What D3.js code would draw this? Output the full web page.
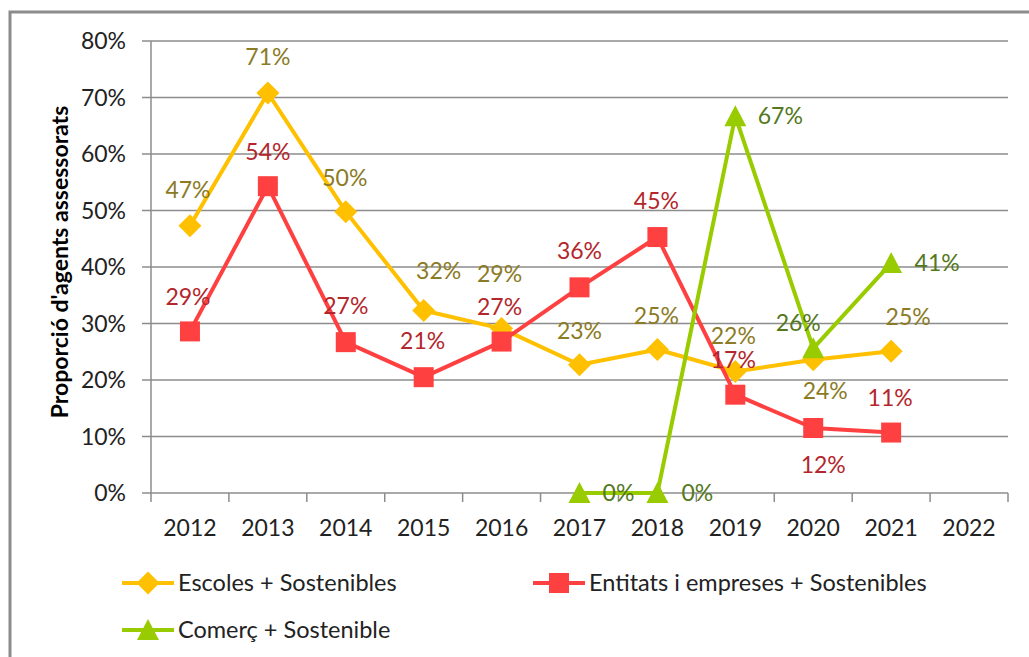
<html>
<head>
    <meta charset="utf-8">
    <title>Proporció d'agents assessorats</title>
    <style>
        body {
            margin: 0;
            background-color: #fff;
        }
        text {
            font-family: Lato, "Open Sans", sans-serif;
        }
        .grid line {
            stroke: #8c8c8c;
            stroke-width: 1.5px;
        }
        .line {
            fill: none;
            stroke-width: 4px;
            stroke-linejoin: round;
        }
    </style>
</head>
<body>
    <div id="container"></div>
    <script src="https://cdn.jsdelivr.net/npm/d3@7"></script>
    <script>
        let width = 1029,
            height = 657,
            margin = { left: 151, right: 21, top: 41, bottom: 164 };

        // data
        let years = ['2012', '2013', '2014', '2015', '2016', '2017', '2018', '2019', '2020', '2021', '2022'];
        let yTicks = [0, 0.1, 0.2, 0.3, 0.4, 0.5, 0.6, 0.7, 0.8];
        let escoles = [0.473, 0.708, 0.498, 0.323, 0.291, 0.227, 0.254, 0.215, 0.236, 0.251, null];
        let entitats = [0.286, 0.543, 0.267, 0.205, 0.268, 0.364, 0.453, 0.174, 0.115, 0.107, null];
        let comerc = [null, null, null, null, null, 0, 0, 0.667, 0.256, 0.407, null];

        // label offsets (dx, dy) per point, as placed in the original
        let escolesLbl = [[-2, -36], [0, -36], [-1, -34], [15, -40], [-2, -55], [0, -34], [-1, -34], [-2, -36], [12, 31], [17, -34]];
        let entitatsLbl = [[-2, -34], [0, -34], [0, -36], [-1, -36], [-2, -35], [0, -36], [-1, -36], [-2, -35], [10, 37], [-1, -35]];
        let comercLbl = [null, null, null, null, null, [39, 0], [40, 0], [45, 0], [-15, -25], [46, 0]];

        let series = [
            { name: 'Escoles + Sostenibles', values: escoles, lbl: escolesLbl, color: '#ffc000', text: '#8b7b25', shape: 'diamond' },
            { name: 'Entitats i empreses + Sostenibles', values: entitats, lbl: entitatsLbl, color: '#ff4040', text: '#b3262b', shape: 'square' },
            { name: 'Comerç + Sostenible', values: comerc, lbl: comercLbl, color: '#99cc00', text: '#54781c', shape: 'triangle' }
        ];

        let svg = d3.select('#container')
            .append('svg')
            .attr('width', width)
            .attr('height', height);

        // chart frame (cut off at right/bottom like the screenshot)
        svg.append('path')
            .attr('d', 'M10,' + height + 'V12H' + width)
            .attr('fill', 'none')
            .attr('stroke', '#8c8c8c')
            .attr('stroke-width', 3);

        let x = d3.scaleBand().domain(years).range([margin.left, width - margin.right]).paddingInner(0),
            y = d3.scaleLinear().domain([0, 0.8]).range([height - margin.bottom, margin.top]);
        let cx = function (d) { return x(d) + x.bandwidth() / 2; };
        let pct = d3.format('.0%');

        // horizontal gridlines
        let grid = svg.append('g').attr('class', 'grid');
        grid.selectAll('line')
            .data(yTicks)
            .enter().append('line')
            .attr('x1', margin.left - 9)
            .attr('x2', width - margin.right)
            .attr('y1', function (d) { return y(d); })
            .attr('y2', function (d) { return y(d); });

        // y axis line
        grid.append('line')
            .attr('x1', margin.left).attr('x2', margin.left)
            .attr('y1', y(0.8)).attr('y2', y(0) + 9);

        // x tick marks at band edges
        let edges = years.map(function (d) { return x(d); }).concat([width - margin.right]);
        grid.selectAll('.xtick')
            .data(edges.slice(1))
            .enter().append('line')
            .attr('class', 'xtick')
            .attr('x1', function (d) { return d; })
            .attr('x2', function (d) { return d; })
            .attr('y1', y(0))
            .attr('y2', y(0) + 9);

        // y tick labels
        svg.append('g').selectAll('text')
            .data(yTicks)
            .enter().append('text')
            .attr('x', 126)
            .attr('y', function (d) { return y(d); })
            .attr('dy', '0.35em')
            .attr('text-anchor', 'end')
            .attr('font-size', 23)
            .attr('fill', '#222')
            .text(function (d) { return pct(d); });

        // x tick labels
        svg.append('g').selectAll('text')
            .data(years)
            .enter().append('text')
            .attr('x', cx)
            .attr('y', 528)
            .attr('dy', '0.35em')
            .attr('text-anchor', 'middle')
            .attr('font-size', 23)
            .attr('fill', '#222')
            .text(function (d) { return d; });

        // y axis title
        svg.append('text')
            .attr('transform', 'translate(60,262) rotate(-90)')
            .attr('dy', '0.35em')
            .attr('text-anchor', 'middle')
            .attr('font-size', 23)
            .attr('font-weight', 'bold')
            .attr('fill', '#000')
            .text("Proporció d'agents assessorats");

        function marker(shape) {
            if (shape === 'diamond') return 'M0,-11.5L11.5,0L0,11.5L-11.5,0Z';
            if (shape === 'square') return 'M-10,-10H10V10H-10Z';
            return 'M0,-11L11,10H-11Z';
        }

        let line = d3.line()
            .defined(function (d) { return d.v != null; })
            .x(function (d) { return cx(d.year); })
            .y(function (d) { return y(d.v); });

        series.forEach(function (s) {
            let pts = years.map(function (yr, i) { return { year: yr, v: s.values[i], lbl: s.lbl[i] }; });
            let g = svg.append('g');
            g.append('path')
                .datum(pts)
                .attr('class', 'line')
                .attr('stroke', s.color)
                .attr('d', line);
            let ok = pts.filter(function (d) { return d.v != null; });
            g.selectAll('.mark')
                .data(ok)
                .enter().append('path')
                .attr('class', 'mark')
                .attr('transform', function (d) { return 'translate(' + cx(d.year) + ',' + y(d.v) + ')'; })
                .attr('d', marker(s.shape))
                .attr('fill', s.color);
        });

        // data labels drawn on top
        series.forEach(function (s) {
            let pts = years.map(function (yr, i) { return { year: yr, v: s.values[i], lbl: s.lbl[i] }; })
                .filter(function (d) { return d.v != null; });
            svg.append('g').selectAll('text')
                .data(pts)
                .enter().append('text')
                .attr('x', function (d) { return cx(d.year) + d.lbl[0]; })
                .attr('y', function (d) { return y(d.v) + d.lbl[1]; })
                .attr('dy', '0.35em')
                .attr('text-anchor', 'middle')
                .attr('font-size', 23)
                .attr('fill', s.text)
                .text(function (d) { return pct(d.v); });
        });

        // legend
        let legendPos = [[122, 583], [533, 583], [122, 630]];
        let legend = svg.append('g').selectAll('g')
            .data(series)
            .enter().append('g')
            .attr('transform', function (d, i) { return 'translate(' + legendPos[i][0] + ',' + legendPos[i][1] + ')'; });
        legend.append('line')
            .attr('x1', 0).attr('x2', 52)
            .attr('stroke', function (d) { return d.color; })
            .attr('stroke-width', 4);
        legend.append('path')
            .attr('transform', 'translate(26,0)')
            .attr('d', function (d) { return marker(d.shape); })
            .attr('fill', function (d) { return d.color; });
        legend.append('text')
            .attr('x', 56)
            .attr('dy', '0.35em')
            .attr('font-size', 23.5)
            .attr('fill', '#222')
            .text(function (d) { return d.name; });
    </script>
</body>
</html>
